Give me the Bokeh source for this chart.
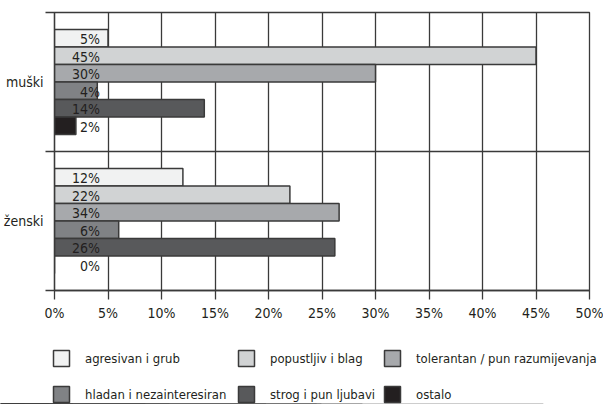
from bokeh.plotting import figure
from bokeh.layouts import column
from bokeh.models import Range1d, FixedTicker, PrintfTickFormatter, Legend, LegendItem
from bokeh.embed import file_html
from bokeh.resources import INLINE
from bokeh.core.properties import value

# ---- data ----
groups = ["muški", "ženski"]
series = ["agresivan i grub", "popustljiv i blag", "tolerantan / pun razumijevanja",
          "hladan i nezainteresiran", "strog i pun ljubavi", "ostalo"]
muski_values = [5, 45, 30, 4, 14, 2]
zenski_values = [12, 22, 26.6, 6, 26.2, 0]
muski_labels = ["5%", "45%", "30%", "4%", "14%", "2%"]
zenski_labels = ["12%", "22%", "34%", "6%", "26%", "0%"]
x_ticks = [0, 5, 10, 15, 20, 25, 30, 35, 40, 45, 50]
colors = ["#f1f2f2", "#d1d3d4", "#a7a9ac", "#808285", "#58595b", "#231f20"]
# legend columns: indices of series shown in each column (top, bottom)
legend_columns = [[0, 3], [1, 4], [2, 5]]

FONT = "DejaVu Sans Condensed"
FS = "14px"
LEG_FS = "13px"
TEXT_COLOR = "#231f20"
LINE_COLOR = "#3a3a3a"

group_centers = {"muški": 1.5, "ženski": 0.5}
bar_h = 0.126

p = figure(width=603, height=326, output_backend="svg", toolbar_location=None,
           x_range=Range1d(0, 50), y_range=Range1d(0, 2),
           min_border_left=54, min_border_right=14, min_border_top=12, min_border_bottom=36)
p.frame_align = False
p.outline_line_color = LINE_COLOR
p.outline_line_width = 1.3

# x axis
p.xaxis.ticker = FixedTicker(ticks=x_ticks)
p.xaxis.formatter = PrintfTickFormatter(format="%d%%")
p.xaxis.major_tick_in = 0
p.xaxis.major_tick_out = 9
p.xaxis.minor_tick_out = 0
p.xaxis.minor_tick_in = 0
p.xaxis.axis_line_color = LINE_COLOR
p.xaxis.major_tick_line_color = LINE_COLOR
p.xaxis.axis_line_width = 1.3
p.xaxis.major_tick_line_width = 1.3
p.xaxis.major_label_text_font = FONT
p.xaxis.major_label_text_font_size = FS
p.xaxis.major_label_text_color = TEXT_COLOR
p.xaxis.major_label_standoff = 5

# y axis: labels at group centres, tick stubs at group boundaries
centers = [group_centers[g] for g in groups]
p.yaxis.ticker = FixedTicker(ticks=centers, minor_ticks=[0, 1, 2])
p.yaxis.major_label_overrides = {group_centers[g]: g for g in groups}
p.yaxis.major_tick_out = 0
p.yaxis.major_tick_in = 0
p.yaxis.minor_tick_out = 9
p.yaxis.minor_tick_in = 0
p.yaxis.minor_tick_line_color = LINE_COLOR
p.yaxis.minor_tick_line_width = 1.3
p.yaxis.axis_line_color = LINE_COLOR
p.yaxis.axis_line_width = 1.3
p.yaxis.major_label_text_font = FONT
p.yaxis.major_label_text_font_size = FS
p.yaxis.major_label_text_color = TEXT_COLOR
p.yaxis.major_label_standoff = 2

# grids
p.xgrid.ticker = FixedTicker(ticks=x_ticks)
p.xgrid.grid_line_color = LINE_COLOR
p.xgrid.grid_line_width = 1.3
p.ygrid.ticker = FixedTicker(ticks=[0, 1, 2])
p.ygrid.grid_line_color = LINE_COLOR
p.ygrid.grid_line_width = 1.3

# legend host figure: no axes, frame fills its canvas; its y range lies
# above the data so its bar renderers only serve as legend swatches
lp = figure(width=603, height=78, output_backend="svg", toolbar_location=None,
            x_axis_type=None, y_axis_type=None, x_range=Range1d(0, 50), y_range=Range1d(3, 4),
            min_border=0)
lp.frame_align = False
lp.outline_line_color = None
lp.xgrid.visible = False
lp.ygrid.visible = False

swatches = []
for i, name in enumerate(series):
    offset = (2.5 - i) * bar_h
    ys = [group_centers["muški"] + offset, group_centers["ženski"] + offset]
    rights = [muski_values[i], zenski_values[i]]
    p.hbar(y=ys, left=0, right=rights, height=bar_h,
           fill_color=colors[i], line_color=LINE_COLOR, line_width=1.5)
    p.text(x=[5, 5], y=ys, text=[muski_labels[i], zenski_labels[i]],
           x_offset=-8, y_offset=1, text_align="right", text_baseline="middle",
           text_font=value(FONT), text_font_size=FS, text_color=TEXT_COLOR)
    sw = lp.hbar(y=ys, left=0, right=rights, height=bar_h,
                 fill_color=colors[i], line_color=LINE_COLOR, line_width=1.5)
    swatches.append(sw)

col_x = [51, 236, 382]
for cx, idxs in zip(col_x, legend_columns):
    leg = Legend(items=[LegendItem(label=series[k], renderers=[swatches[k]]) for k in idxs],
                 orientation="vertical", location=(cx, 0),
                 glyph_width=20, glyph_height=20, label_standoff=14, spacing=16,
                 padding=0, margin=0, border_line_color=None, background_fill_alpha=0,
                 label_text_font=FONT, label_text_font_size=LEG_FS,
                 label_text_color=TEXT_COLOR)
    lp.add_layout(leg)

layout = column(p, lp, spacing=0)
open("out.html", "w").write(file_html(layout, INLINE))
